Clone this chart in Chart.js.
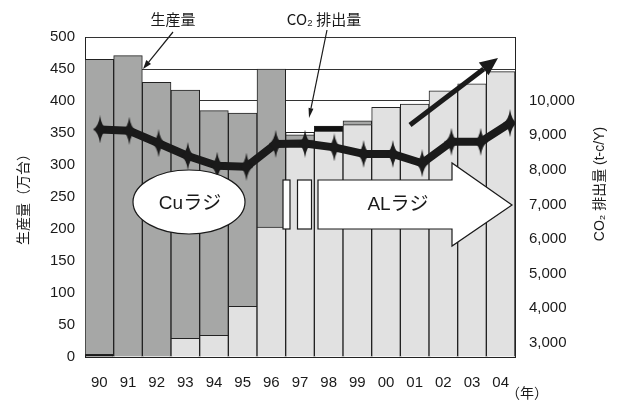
<!DOCTYPE html>
<html><head><meta charset="utf-8">
<script src="https://cdn.jsdelivr.net/npm/chart.js@4/dist/chart.umd.min.js"></script>
<style>html,body{margin:0;padding:0;background:#fff}</style>
</head><body>
<canvas id="c" width="621" height="401"></canvas>
<script>
// ---- data ----
const years = ['90','91','92','93','94','95','96','97','98','99','00','01','02','03','04'];
const alRadiator = [4, 0, 0, 29, 34, 79, 203, 339, 353, 363, 390, 395, 416, 427, 446];
const cuRadiator = [461, 471, 429, 388, 351, 302, 247, 8, 0, 6, 0, 0, 0, 0, 0];
const otherRadiator = [0, 0, 0, 0, 0, 0, 0, 4, 8, 0, 0, 0, 0, 0, 0];
const co2Emission = [9170, 9130, 8770, 8400, 8120, 8090, 8750, 8760, 8650, 8460, 8460, 8190, 8810, 8810, 9350];
const co2Ticks = [3000, 4000, 5000, 6000, 7000, 8000, 9000, 10000];

const FONT = '"Liberation Sans", Arial, "Noto Sans CJK JP", sans-serif';
const JFONT = '"Noto Sans CJK JP", "Liberation Sans", sans-serif';
const INK = '#1a1a1a';

// tall diamond marker
const marker = document.createElement('canvas');
marker.width = 14; marker.height = 28;
(function(){
  const m = marker.getContext('2d');
  m.fillStyle = INK;
  m.beginPath();
  m.moveTo(7, 0);
  m.quadraticCurveTo(8.5, 11, 14, 14);
  m.quadraticCurveTo(8.5, 17, 7, 28);
  m.quadraticCurveTo(5.5, 17, 0, 14);
  m.quadraticCurveTo(5.5, 11, 7, 0);
  m.closePath();
  m.fill();
})();

function arrow(ctx, x1, y1, x2, y2, lw, hl, hw) {
  const a = Math.atan2(y2 - y1, x2 - x1);
  const bx = x2 - hl * Math.cos(a), by = y2 - hl * Math.sin(a);
  ctx.save();
  ctx.strokeStyle = INK; ctx.fillStyle = INK; ctx.lineWidth = lw;
  ctx.beginPath(); ctx.moveTo(x1, y1); ctx.lineTo(bx, by); ctx.stroke();
  ctx.beginPath();
  ctx.moveTo(x2, y2);
  ctx.lineTo(bx + hw / 2 * Math.sin(a), by - hw / 2 * Math.cos(a));
  ctx.lineTo(bx - hw / 2 * Math.sin(a), by + hw / 2 * Math.cos(a));
  ctx.closePath(); ctx.fill();
  ctx.restore();
}

const annotations = {
  id: 'annotations',
  afterDatasetsDraw(chart) {
    const ctx = chart.ctx;
    ctx.save();
    // Cu ellipse
    ctx.fillStyle = '#fff'; ctx.strokeStyle = INK; ctx.lineWidth = 1.2;
    ctx.beginPath(); ctx.ellipse(189, 202, 56, 32, 0, 0, Math.PI * 2); ctx.fill(); ctx.stroke();
    ctx.fillStyle = INK; ctx.font = '19px ' + FONT; ctx.textAlign = 'center'; ctx.textBaseline = 'middle';
    ctx.fillText('Cuラジ', 190, 204);
    // small break rects
    ctx.fillStyle = '#fff'; ctx.strokeStyle = INK; ctx.lineWidth = 1.2;
    [[283, 7], [297.5, 14]].forEach(([x, w]) => { ctx.fillRect(x, 180, w, 49); ctx.strokeRect(x, 180, w, 49); });
    // AL block arrow
    ctx.beginPath();
    ctx.moveTo(318, 180); ctx.lineTo(452, 180); ctx.lineTo(452, 163); ctx.lineTo(512, 205);
    ctx.lineTo(452, 246); ctx.lineTo(452, 229); ctx.lineTo(318, 229); ctx.closePath();
    ctx.fill(); ctx.stroke();
    ctx.fillStyle = INK; ctx.font = '19px ' + FONT;
    ctx.fillText('ALラジ', 398, 205);
    // trend arrow
    arrow(ctx, 410, 125, 498, 58, 5, 18, 16);
    // label arrows
    arrow(ctx, 173, 32, 143, 69, 1.2, 9, 6);
    arrow(ctx, 327, 30, 309, 118, 1.2, 10, 5);
    ctx.fillStyle = INK; ctx.font = '15px ' + JFONT;
    ctx.fillText('生産量', 173, 19);
    ctx.fillText('CO₂ 排出量', 324, 19);
    ctx.restore();
  },
  afterDraw(chart) {
    const ctx = chart.ctx;
    ctx.save();
    ctx.fillStyle = INK; ctx.textAlign = 'center'; ctx.textBaseline = 'middle';
    ctx.font = '14px ' + JFONT;
    ctx.translate(23, 196); ctx.rotate(-Math.PI / 2);
    ctx.fillText('生産量（万台）', 0, 0);
    ctx.restore();
    ctx.save();
    ctx.fillStyle = INK; ctx.textAlign = 'center'; ctx.textBaseline = 'middle';
    ctx.font = '14px ' + FONT;
    ctx.translate(600, 184); ctx.rotate(-Math.PI / 2);
    ctx.fillText('CO₂ 排出量 (t-c/Y)', 0, 0);
    ctx.restore();
    ctx.save();
    ctx.fillStyle = INK; ctx.textAlign = 'center'; ctx.textBaseline = 'middle';
    ctx.font = '14px ' + JFONT;
    ctx.fillText('（年）', 527, 393);
    ctx.restore();
  }
};

Chart.defaults.font.family = FONT;
Chart.defaults.color = INK;

const barCommon = { order: 1, borderColor: '#222', borderWidth: 1, yAxisID: 'y', xAxisID: 'x', stack: 's', grouped: false, categoryPercentage: 1, barPercentage: 1 };
const alColors = years.map((y, i) => i === 0 ? '#1a1a1a' : '#e1e1e1');
const otherColors = years.map((y, i) => i === 8 ? '#111' : '#fff');

new Chart(document.getElementById('c'), {
  type: 'bar',
  data: {
    labels: years,
    datasets: [
      {
        type: 'line', label: 'CO2', order: 0, yAxisID: 'y2', xAxisID: 'x2',
        data: co2Emission.map((v, i) => ({ x: i, y: v })),
        borderColor: INK, borderWidth: 8, tension: 0,
        pointStyle: marker, pointRadius: 7, borderJoinStyle: 'round'
      },
      Object.assign({ label: 'AL', data: alRadiator, backgroundColor: alColors }, barCommon),
      Object.assign({ label: 'Cu', data: cuRadiator, backgroundColor: '#a6a7a6' }, barCommon),
      Object.assign({ label: 'other', data: otherRadiator, backgroundColor: otherColors }, barCommon)
    ]
  },
  options: {
    responsive: false, animation: false, devicePixelRatio: 1,
    layout: { padding: { top: 37, left: 0, right: 0, bottom: 0 } },
    plugins: { legend: { display: false }, tooltip: { enabled: false } },
    scales: {
      x: {
        type: 'category', stacked: true, position: 'bottom', offset: true,
        grid: { display: false, drawTicks: false },
        border: { display: true, color: '#222', width: 1 },
        ticks: { font: { size: 15 }, padding: 17, maxRotation: 0 },
        afterFit(s) { s.height = 44; }
      },
      x2: { type: 'linear', display: false, offset: false, grid: { offset: false }, min: -0.5122, max: 14.1707 },
      y: {
        stacked: true, position: 'left', min: 0, max: 500,
        ticks: { stepSize: 50, font: { size: 15 }, padding: 10 },
        grid: { color: '#333', lineWidth: 1, drawTicks: false },
        border: { display: true, color: '#222', width: 1 },
        afterFit(s) { s.width = 85; }
      },
      y2: {
        position: 'right', min: 2586, max: 11843,
        grid: { display: false, drawTicks: false },
        border: { display: true, color: '#222', width: 1 },
        afterBuildTicks(s) { s.ticks = co2Ticks.map(v => ({ value: v })); },
        ticks: { font: { size: 15 }, padding: 14, callback: v => v.toLocaleString('en-US') },
        afterFit(s) { s.width = 106; }
      }
    }
  },
  plugins: [annotations]
});
</script>
</body></html>
